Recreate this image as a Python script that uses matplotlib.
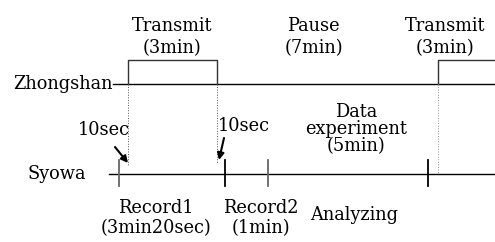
import matplotlib
matplotlib.use("Agg")
import matplotlib.pyplot as plt

# schematic time axis in minutes (not to scale)
transmit_start = [0.0, 10.0]
transmit_end = [2.87, None]
syowa_ticks = [-0.29, 3.13, 4.52, 9.68]
tick_colors = ["#666666", "black", "#666666", "black"]

top_labels = ["Transmit\n(3min)", "Pause\n(7min)", "Transmit\n(3min)"]
top_label_x = [1.42, 5.99, 10.24]
bottom_labels = ["Record1\n(3min20sec)", "Record2\n(1min)", "Analyzing"]
bottom_label_x = [0.90, 4.29, 7.29]

PX = 31.0      # px per minute in the picture
X0 = 128.0     # pixel of t = 0

def t(px):
    return (px - X0) / PX

plt.rcParams["font.family"] = ["DejaVu Serif"]
fs = 12.8

fig = plt.figure(figsize=(4.95, 2.42), dpi=100)
ax = fig.add_axes([0, 0, 1, 1])
ax.set_xlim(t(0), t(495))
ax.set_ylim(242, 0)
ax.axis("off")

y_zh, y_top, y_sy = 84, 60, 174

# Zhongshan line and transmit pulses
ax.plot([t(113), t(495)], [y_zh, y_zh], color="black", lw=1)
ax.plot([transmit_start[0], transmit_start[0], transmit_end[0], transmit_end[0]],
        [y_zh, y_top, y_top, y_zh], color="#333333", lw=1)
ax.plot([transmit_start[1], transmit_start[1], t(496)],
        [y_zh, y_top, y_top], color="#333333", lw=1)

# dotted drop lines
ax.plot([transmit_start[0]] * 2, [y_zh, 165], color="#555555", lw=0.7, ls=":")
ax.plot([transmit_end[0]] * 2, [y_zh, 164], color="#555555", lw=0.7, ls=":")
ax.plot([transmit_start[1]] * 2, [y_zh, 173], color="#999999", lw=0.7, ls=":")

# Syowa line and ticks
ax.plot([t(109), t(495)], [y_sy, y_sy], color="black", lw=1)
for x, c in zip(syowa_ticks, tick_colors):
    ax.plot([x, x], [160, 186], color=c, lw=1.3)

# station labels
ax.text(t(113), y_zh, "Zhongshan", ha="right", va="center", fontsize=fs)
ax.text(t(86), y_sy, "Syowa", ha="right", va="center", fontsize=fs)

for lab, x in zip(top_labels, top_label_x):
    ax.text(x, 37, lab, ha="center", va="center", fontsize=fs, linespacing=1.25)

ax.text(t(356), 129, "Data\nexperiment\n(5min)", ha="center", va="center",
        fontsize=fs, linespacing=0.95)

ax.text(bottom_label_x[0], 218, bottom_labels[0], ha="center", va="center",
        fontsize=fs, linespacing=1.1)
ax.text(bottom_label_x[1], 218, bottom_labels[1], ha="center", va="center",
        fontsize=fs, linespacing=1.1)
ax.text(bottom_label_x[2], 215, bottom_labels[2], ha="center", va="center",
        fontsize=fs)

# 10sec annotations
ax.text(t(104), 130, "10sec", ha="center", va="center", fontsize=fs)
ax.text(t(218), 126, "10sec", ha="left", va="center", fontsize=fs)
arrow = dict(arrowstyle="-|>", color="black", lw=1.5,
             shrinkA=0, shrinkB=0, mutation_scale=10)
ax.annotate("", xy=(t(128), 163), xytext=(t(115), 147), arrowprops=arrow)
ax.annotate("", xy=(t(219), 160), xytext=(t(224), 138), arrowprops=arrow)

fig.savefig("out.png", dpi=100)
